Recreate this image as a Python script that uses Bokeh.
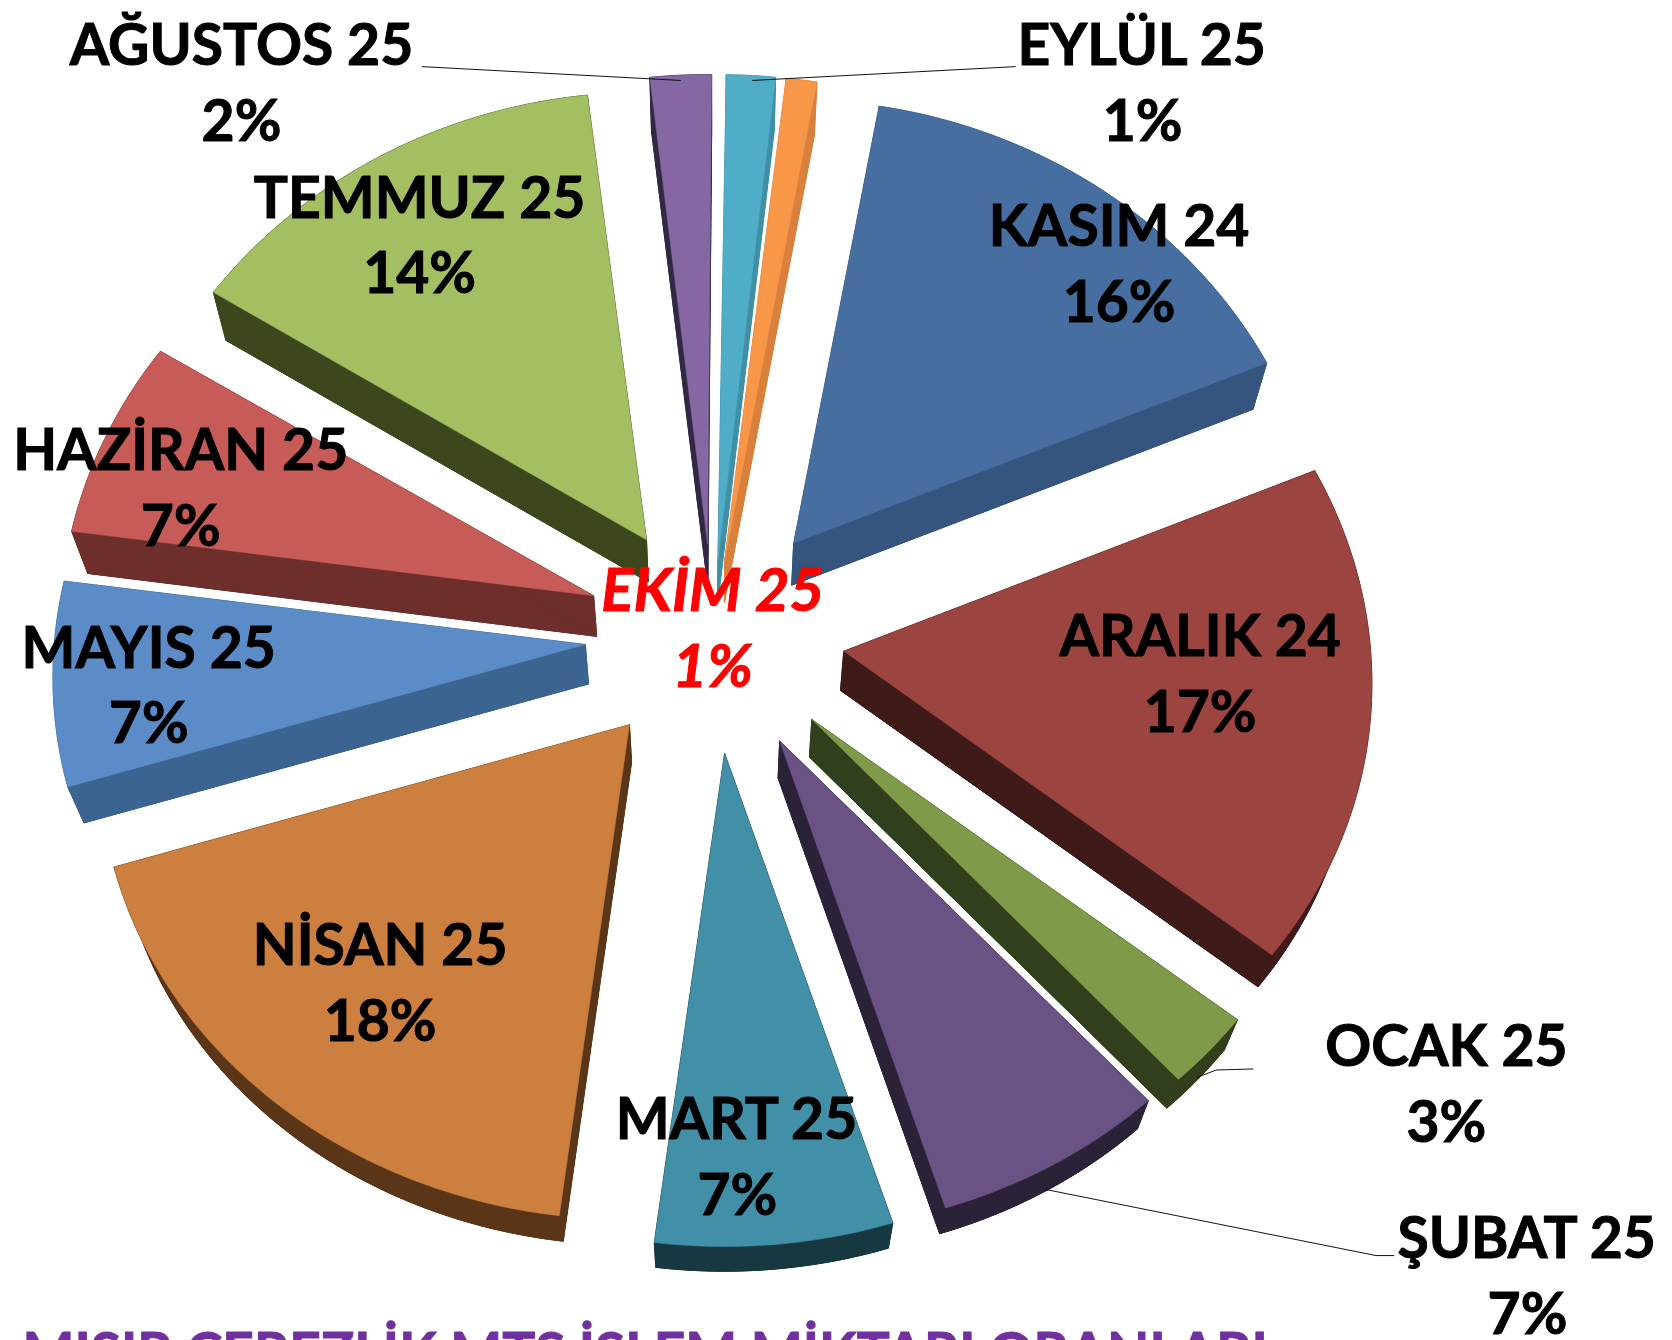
import math
from bokeh.plotting import figure
from bokeh.models import Range1d
from bokeh.core.properties import value
from bokeh.embed import file_html
from bokeh.resources import INLINE

months = ["KASIM 24", "ARALIK 24", "OCAK 25", "ŞUBAT 25", "MART 25", "NİSAN 25",
          "MAYIS 25", "HAZİRAN 25", "TEMMUZ 25", "AĞUSTOS 25", "EYLÜL 25", "EKİM 25"]
shares = [15.8, 17.2, 2.6, 6.8, 6.8, 18.2, 7.0, 6.8, 14.2, 2.0, 1.6, 1.0]
pct_labels = ["16%", "17%", "3%", "7%", "7%", "18%", "7%", "7%", "14%", "2%", "1%", "1%"]
tip_explode = [122, 124, 128, 127, 124, 122, 120, 119, 117, 95, 78, 78]
top_colors = ["#466EA0", "#9C4440", "#7F9A48", "#6B5285", "#428FA8", "#CC7F3F",
              "#5B8CC8", "#C75B58", "#A3BF62", "#8568A3", "#50ADC8", "#F79747"]
side_colors = ["#35547E", "#3E1A18", "#323F1C", "#2C2238", "#173840", "#5A3518",
               "#3B6491", "#6E2E2C", "#3D471E", "#332843", "#3F8FA5", "#D9803D"]
# label centres in the shrunk-image frame
label_pos = [(1049, 210), (1125, 594), (1356, 979), (1432, 1159), (691, 1047), (356, 884),
             (139, 605), (169, 420), (393, 183), (226, 40), (1071, 40), (668, 551)]
leaders = [[(395, 62), (638, 75)], [(952, 62), (705, 75)],
           [(1175, 1002), (1140, 1003), (1122, 1010)],
           [(1307, 1177), (1290, 1177), (980, 1115)]]
title_text = "MISIR ÇEREZLİK MTS İŞLEM MİKTARI ORANLARI"

S = 1672 / 1568
CX, CY = 668, 595
RX, RY = 496, 440
GX, GY = 0.07, 0.055
K = 0.9
RIM_E = 122
START = 10.0
FONT = "Lato"

p = figure(width=1672, height=1340, x_range=Range1d(0, 1672), y_range=Range1d(1340, 0),
           output_backend="svg", toolbar_location=None, min_border=0,
           outline_line_color=None, background_fill_color="white", border_fill_color="white")
p.axis.visible = False
p.grid.visible = False


def lower(pt):
    x, y = pt
    t = max(22, 45 - (y - 275) * 0.0245)
    return (670 + (x - 670) * 0.975, y + t)


side_xs, side_ys, side_cols = [], [], []
top_xs, top_ys, top_cols = [], [], []


def add_side(pts, col):
    side_xs.append([q[0] * S for q in pts])
    side_ys.append([q[1] * S for q in pts])
    side_cols.append(col)


a0 = START
for share, e, ct, cs in zip(shares, tip_explode, top_colors, side_colors):
    a1 = a0 + share * 3.6
    m = math.radians((a0 + a1) / 2)
    ax = CX + RIM_E * math.sin(m)
    ay = CY - RIM_E * K * math.cos(m)
    apex = (CX + e * math.sin(m), CY - e * K * math.cos(m))
    n = max(4, int(a1 - a0))
    rim = []
    for i in range(n + 1):
        a = math.radians(a0 + (a1 - a0) * i / n)
        rim.append((ax + RX * (1 - GX * math.cos(a)) * math.sin(a),
                    ay - RY * (1 - GY * math.cos(a)) * math.cos(a)))
    top = [apex] + rim
    low = [lower(q) for q in top]
    add_side(low, cs)
    add_side(top[1:] + low[1:][::-1], cs)
    add_side([apex, rim[0], low[1], low[0]], cs)
    add_side([apex, rim[-1], low[-1], low[0]], cs)
    top_xs.append([q[0] * S for q in top])
    top_ys.append([q[1] * S for q in top])
    top_cols.append(ct)
    a0 = a1

p.patches(side_xs, side_ys, fill_color=side_cols, line_color=side_cols, line_width=1)
p.patches(top_xs, top_ys, fill_color=top_cols, line_color=top_cols, line_width=0.5)

for ln in leaders:
    p.line([q[0] * S for q in ln], [q[1] * S for q in ln], line_color="#111111", line_width=1)

GAP = 71
for name, pct, (lx, ly) in zip(months, pct_labels, label_pos):
    red = name == "EKİM 25"
    col = "#FF0000" if red else "#000000"
    for txt, yy in ((name, ly), (pct, ly + GAP)):
        p.text([lx * S], [yy * S], text=[txt], text_align="center", text_baseline="middle",
               text_font=value(FONT), text_font_style="bold italic" if red else "bold",
               text_font_size="60px" if red else "57px", text_color=col, text_outline_color=col)

p.text([22], [1350], text=[title_text], text_align="left", text_baseline="alphabetic",
       text_font=value(FONT), text_font_style="bold", text_font_size="55px",
       text_color="#7030A0", text_outline_color="#7030A0")

open("out.html", "w").write(file_html(p, INLINE))
